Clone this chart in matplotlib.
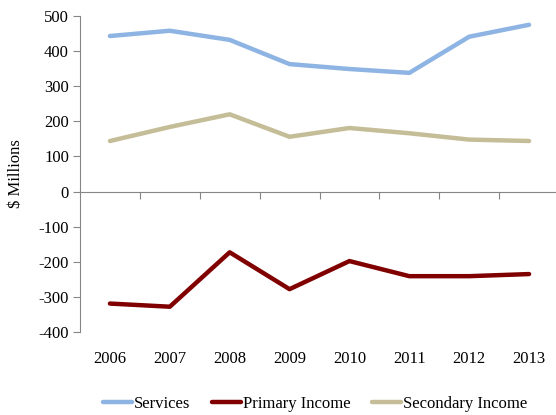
import matplotlib
matplotlib.use("Agg")
import matplotlib.pyplot as plt

# Data ($ millions)
years = ["2006", "2007", "2008", "2009", "2010", "2011", "2012", "2013"]
services = [443, 458, 432, 363, 349, 338, 441, 475]
primary_income = [-319, -328, -173, -278, -198, -241, -241, -235]
secondary_income = [144, 184, 220, 156, 181, 166, 148, 144]

plt.rcParams["font.family"] = ["Liberation Serif", "DejaVu Serif"]
plt.rcParams["axes.unicode_minus"] = False
axis_grey = "#868686"

fig = plt.figure(figsize=(5.56, 4.15), dpi=100)
ax = fig.add_axes([80 / 556, 1 - 332 / 415, 479 / 556, 316 / 415])

x = range(len(years))
ax.plot(x, services, color="#8EB4E3", linewidth=3.2, solid_capstyle="round", label="Services")
ax.plot(x, primary_income, color="#800000", linewidth=3.2, solid_capstyle="round", label="Primary Income")
ax.plot(x, secondary_income, color="#C4BD97", linewidth=3.2, solid_capstyle="round", label="Secondary Income")

ax.set_xlim(-0.5, len(years) - 0.5)
ax.set_ylim(-400, 500)
ax.set_yticks(range(-400, 501, 100))
ax.tick_params(axis="y", direction="out", length=5, color=axis_grey, labelsize=12, pad=3)

# category labels below the plot, no tick marks
ax.set_xticks(list(x))
ax.set_xticklabels(years)
ax.tick_params(axis="x", length=0, labelsize=12, pad=14)

for side in ["top", "right", "bottom"]:
    ax.spines[side].set_visible(False)
ax.spines["left"].set_color(axis_grey)

# horizontal axis line at zero with tick marks between categories
zero_axis = ax.secondary_xaxis(0, transform=ax.transData)
zero_axis.spines["bottom"].set_color(axis_grey)
zero_axis.set_xticks([i + 0.5 for i in range(len(years) - 1)])
zero_axis.set_xticklabels([])
zero_axis.tick_params(axis="x", direction="out", length=5, color=axis_grey)

ax.set_ylabel("$ Millions", fontsize=12, labelpad=10)

leg = ax.legend(loc="center", bbox_to_anchor=(0.5, -0.235), ncol=3, frameon=False,
                fontsize=12, handlelength=1.75, handletextpad=0.1, columnspacing=1.3)
leg.set_bbox_to_anchor((315 / 556, 11 / 415), transform=fig.transFigure)

fig.savefig("out.png", dpi=100)
